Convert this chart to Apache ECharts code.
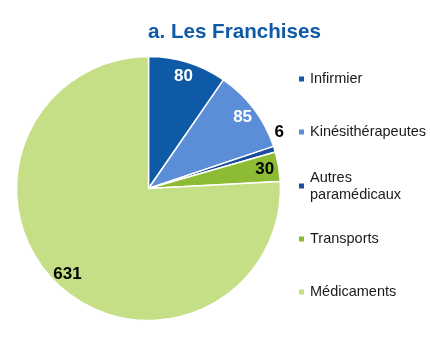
<!DOCTYPE html>
<html>
<head>
<meta charset="utf-8">
<script src="https://cdn.jsdelivr.net/npm/echarts@6/dist/echarts.min.js"></script>
<style>
html,body{margin:0;padding:0;background:#fff;}
#chart{width:430px;height:359px;}
</style>
</head>
<body>
<div id="chart"></div>
<script>
const categories = ['Infirmier', 'Kinésithérapeutes', 'Autres\nparamédicaux', 'Transports', 'Médicaments'];
const values = [80, 85, 6, 30, 631];
const colors = ['#0e5aa6', '#5b8ed7', '#1c4c9e', '#8dbb33', '#c4df86'];
const labelColors = ['#ffffff', '#ffffff', '#000000', '#000000', '#000000'];
const titleText = 'a. Les Franchises';

const FONT = '"Liberation Sans", Arial, sans-serif';
const cx = 148.5, cy = 188.5, R = 132;

const mainData = categories.map((c, i) => ({
  name: c, value: values[i], itemStyle: { color: colors[i] }
}));

const labelData = categories.map((c, i) => {
  const item = {
    name: c, value: values[i],
    itemStyle: { color: 'rgba(0,0,0,0)' },
    label: { color: labelColors[i] }
  };
  if (values[i] < 10) {
    item.label.position = 'outside';
    item.label.offset = [0, -17];
  }
  return item;
});

const legendTops = [79, 132, 186, 239, 292];
const legends = categories.map((c, i) => {
  const multi = c.indexOf('\n') >= 0;
  return {
    data: [c],
    orient: 'vertical',
    left: 297,
    top: legendTops[i] - (multi ? 25.5 : 8.5),
    padding: 0,
    itemWidth: 7,
    itemHeight: 7,
    itemGap: 5,
    icon: 'rect',
    selectedMode: false,
    textStyle: {
      fontFamily: FONT, fontSize: 14.5, color: '#1a1a1a', lineHeight: 17,
      padding: multi ? [17, 0, 0, 0] : 0
    }
  };
});

const chart = echarts.init(document.getElementById('chart'), null, { renderer: 'canvas' });
chart.setOption({
  animation: false,
  backgroundColor: '#ffffff',
  title: {
    text: titleText,
    left: 148,
    top: 22,
    padding: 0,
    textStyle: { fontFamily: FONT, fontSize: 20.6, fontWeight: 'bold', color: '#0e5aa6', lineHeight: 20 }
  },
  legend: legends,
  series: [
    {
      type: 'pie',
      center: [cx, cy],
      radius: [0, R],
      startAngle: 90,
      clockwise: true,
      avoidLabelOverlap: false,
      silent: true,
      label: { show: false },
      labelLine: { show: false },
      itemStyle: { borderColor: '#ffffff', borderWidth: 1.5 },
      data: mainData
    },
    {
      type: 'pie',
      center: [cx, cy],
      radius: [R * 0.74, R],
      startAngle: 90,
      clockwise: true,
      avoidLabelOverlap: false,
      silent: true,
      legendHoverLink: false,
      label: {
        show: true,
        position: 'inside',
        formatter: '{c}',
        fontFamily: FONT,
        fontSize: 17,
        fontWeight: 'bold',
        distanceToLabelLine: 0
      },
      labelLine: { show: false, length: 0, length2: 0 },
      itemStyle: { borderWidth: 0 },
      data: labelData
    }
  ]
});
</script>
</body>
</html>
